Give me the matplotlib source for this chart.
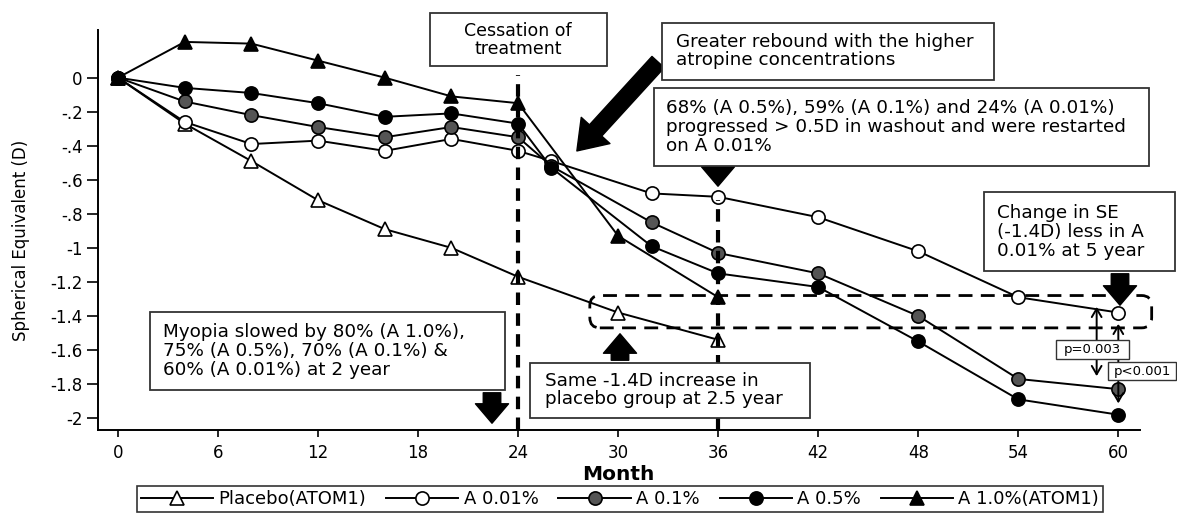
import matplotlib
matplotlib.use("Agg")
import matplotlib.pyplot as plt
from matplotlib.patches import FancyBboxPatch, Rectangle

plt.rcParams["font.family"] = ["DejaVu Sans"]

# ATOM1 visits (placebo, A 1.0%) and ATOM2 visits (A 0.01/0.1/0.5%)
atom1_months = [0, 4, 8, 12, 16, 20, 24, 30, 36]
placebo = [0, -0.27, -0.49, -0.72, -0.89, -1.00, -1.17, -1.38, -1.54]
a10 = [0, 0.21, 0.20, 0.10, 0.00, -0.11, -0.15, -0.93, -1.29]

atom2_months = [0, 4, 8, 12, 16, 20, 24, 26, 32, 36, 42, 48, 54, 60]
a001 = [0, -0.26, -0.39, -0.37, -0.43, -0.36, -0.43, -0.49, -0.68, -0.70, -0.82, -1.02, -1.29, -1.38]
a01 = [0, -0.14, -0.22, -0.29, -0.35, -0.29, -0.35, -0.52, -0.85, -1.03, -1.15, -1.40, -1.77, -1.83]
a05 = [0, -0.06, -0.09, -0.15, -0.23, -0.21, -0.27, -0.53, -0.99, -1.15, -1.23, -1.55, -1.89, -1.98]

x_ticks = [0, 6, 12, 18, 24, 30, 36, 42, 48, 54, 60]
y_ticks = [0, -0.2, -0.4, -0.6, -0.8, -1.0, -1.2, -1.4, -1.6, -1.8, -2.0]
y_tick_labels = ["0", "-.2", "-.4", "-.6", "-.8", "-1", "-1.2", "-1.4", "-1.6", "-1.8", "-2"]

W, H = 1177, 514


def fpos(x, y):
    # pixel position (from top-left) -> figure fraction
    return (x / W, 1 - y / H)


def text_box(x0, y0, x1, y1, tx, ty, text, ha="left", fs=13.2, lw=1.3):
    # framed note: box and text given in pixels
    fig.add_artist(Rectangle(fpos(x0, y1), (x1 - x0) / W, (y1 - y0) / H,
                             transform=fig.transFigure, fc="white", ec="#333333",
                             lw=lw, zorder=5))
    fig.text(*fpos(tx, ty), text, ha=ha, va="center", fontsize=fs,
             linespacing=1.05, zorder=6)


fig = plt.figure(figsize=(W / 100, H / 100), dpi=100)
ax = fig.add_axes([98 / W, 1 - 430 / H, (1140 - 98) / W, (430 - 30) / H])

line_kw = dict(color="black", lw=1.4, ms=9.5, mec="black", mew=1.2)
ax.plot(atom1_months, placebo, marker="^", mfc="white", label="Placebo(ATOM1)", **line_kw)
ax.plot(atom2_months, a001, marker="o", mfc="white", label="A 0.01%", **line_kw)
ax.plot(atom2_months, a01, marker="o", mfc="#555555", label="A 0.1%", **line_kw)
ax.plot(atom2_months, a05, marker="o", mfc="black", label="A 0.5%", **line_kw)
ax.plot(atom1_months, a10, marker="^", mfc="black", label="A 1.0%(ATOM1)", **line_kw)

ax.set_xlim(-1.2, 61.3)
ax.set_ylim(-2.07, 0.28)
ax.set_xticks(x_ticks)
ax.set_yticks(y_ticks)
ax.set_yticklabels(y_tick_labels)
ax.tick_params(labelsize=12, direction="out", width=1.2)
ax.tick_params(axis="y", length=8, pad=3)
ax.tick_params(axis="x", length=5, pad=5)
for side in ["top", "right"]:
    ax.spines[side].set_visible(False)
for side in ["left", "bottom"]:
    ax.spines[side].set_linewidth(1.4)

ax.set_xlabel("Month", fontsize=14.5, fontweight="bold")
ax.xaxis.set_label_coords((618 - 98) / 1042, (430 - 465) / 400)
ax.set_ylabel("Spherical Equivalent (D)", fontsize=12)
ax.yaxis.set_label_coords((30 - 98) / 1042, (430 - 240) / 400)

# vertical dashed markers at end of treatment and restart
ax.plot([24, 24], [-2.07, 0.015], ls=(0, (3, 2)), lw=3, color="black", clip_on=False)
ax.plot([36, 36], [-2.07, -0.72], ls=(0, (3, 2)), lw=3, color="black", clip_on=False)

# dashed highlight rectangle around -1.4D
rect = FancyBboxPatch((28.3, -1.47), 62.0 - 28.3, 0.19,
                      boxstyle="round,pad=0,rounding_size=0.6", mutation_aspect=0.1,
                      fill=False, ls=(0, (5, 3)), lw=2, ec="black", clip_on=False)
ax.add_patch(rect)

text_box(430, 13, 607, 66, 518, 40, "Cessation of\ntreatment", ha="center", fs=12.5)
text_box(662, 23, 994, 80, 676, 51, "Greater rebound with the higher\natropine concentrations")
text_box(654, 88, 1149, 166, 666, 127,
         "68% (A 0.5%), 59% (A 0.1%) and 24% (A 0.01%)\n"
         "progressed > 0.5D in washout and were restarted\non A 0.01%")
text_box(984, 192, 1175, 271, 997, 232, "Change in SE\n(-1.4D) less in A\n0.01% at 5 year")
text_box(150, 312, 505, 390, 163, 351,
         "Myopia slowed by 80% (A 1.0%),\n75% (A 0.5%), 70% (A 0.1%) &\n60% (A 0.01%) at 2 year")
text_box(530, 363, 810, 418, 545, 390, "Same -1.4D increase in\nplacebo group at 2.5 year")
text_box(1056, 340, 1129, 359, 1092.5, 349.5, "p=0.003", ha="center", fs=9.5, lw=1.0)
text_box(1108, 362, 1176, 380, 1142, 371, "p<0.001", ha="center", fs=9.5, lw=1.0)

# thick block arrows
big = dict(arrowstyle="simple,head_width=1.4,head_length=1.0,tail_width=0.6",
           fc="black", ec="black", mutation_scale=20)
ax.annotate("", xy=fpos(575, 153), xycoords="figure fraction",
            xytext=fpos(660, 60), textcoords="figure fraction", arrowprops=big)
small = dict(arrowstyle="simple,head_width=1.7,head_length=1.0,tail_width=0.9",
             fc="black", ec="black", mutation_scale=14)
ax.annotate("", xy=fpos(718, 189), xycoords="figure fraction",
            xytext=fpos(718, 166), textcoords="figure fraction", arrowprops=small)
ax.annotate("", xy=fpos(1120, 308), xycoords="figure fraction",
            xytext=fpos(1120, 271), textcoords="figure fraction", arrowprops=small)
ax.annotate("", xy=fpos(620, 331), xycoords="figure fraction",
            xytext=fpos(620, 363), textcoords="figure fraction", arrowprops=small)
ax.annotate("", xy=fpos(492, 426), xycoords="figure fraction",
            xytext=fpos(492, 390), textcoords="figure fraction", arrowprops=small)

# p-value double arrows between the A 0.01% curve and the others at 5 years
thin = dict(arrowstyle="<->,head_width=0.35,head_length=0.6", color="black", lw=1.4)
ax.annotate("", xy=(58.7, a001[-1] + 0.05), xytext=(58.7, a01[-1] + 0.06), arrowprops=thin)
ax.annotate("", xy=(60, a001[-1] - 0.05), xytext=(60, a05[-1] + 0.05), arrowprops=thin)

leg = fig.legend(loc="center", bbox_to_anchor=fpos(620, 499), ncol=5, fontsize=13,
                 frameon=True, fancybox=False, edgecolor="black", handlelength=4.0,
                 handletextpad=0.3, columnspacing=1.1, borderpad=0.2)
leg.get_frame().set_linewidth(1.2)

fig.savefig("out.png", dpi=100)
